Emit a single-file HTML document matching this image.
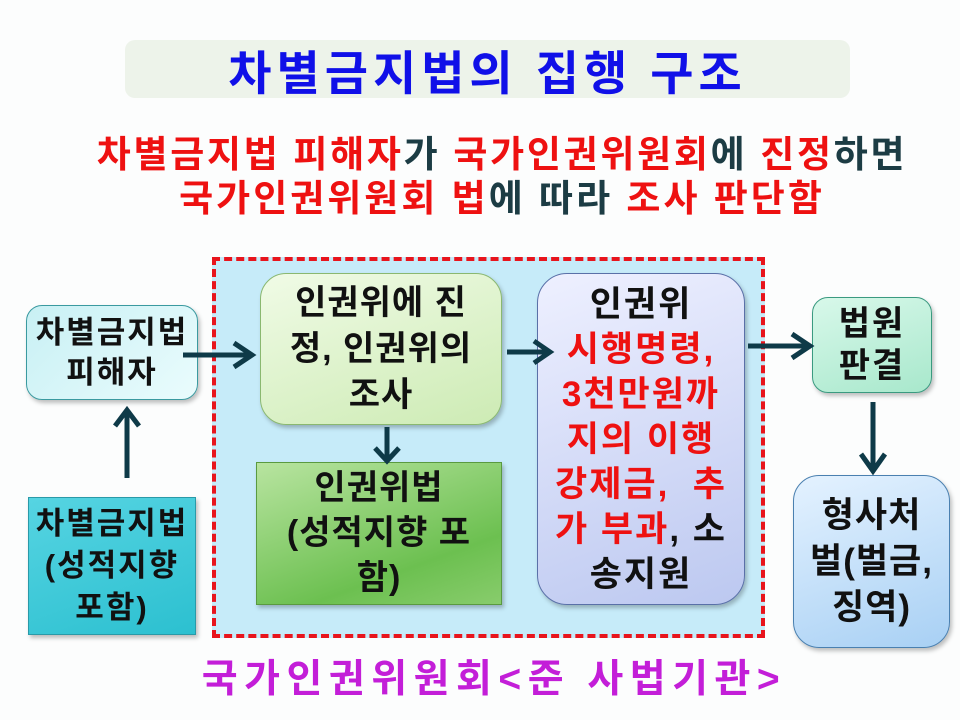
<!DOCTYPE html>
<html><head><meta charset="utf-8"><style>
body{margin:0;width:960px;height:720px;background:#fcfdfd;position:relative;overflow:hidden;font-family:"Liberation Sans","Noto Sans CJK KR",sans-serif;font-weight:bold}
.a{position:absolute;box-sizing:border-box;display:flex;flex-direction:column;align-items:center;justify-content:center;text-align:center;color:#111;white-space:nowrap}
.t{position:absolute;left:0;width:960px;text-align:center;white-space:nowrap}
.r{color:#ee1111}
.k{color:#1c3c44}
</style></head><body>
<div class="a" style="left:125px;top:40px;width:725px;height:58px;background:#edf3ea;border-radius:10px;color:#1010e8;font-size:47px;letter-spacing:5px">차별금지법의 집행 구조</div>
<div class="t" style="top:124px;font-size:37px;letter-spacing:2.7px;left:22px"><span class="r">차별금지법 피해자</span><span class="k">가 </span><span class="r">국가인권위원회</span><span class="k">에 </span><span class="r">진정</span><span class="k">하면</span></div>
<div class="t" style="top:168px;font-size:37px;letter-spacing:3px;left:22px"><span class="r">국가인권위원회 법</span><span class="k">에 따라 </span><span class="r">조사 판단함</span></div>

<div style="position:absolute;left:212px;top:257px;width:553px;height:381px;box-sizing:border-box;background:#c6ebf9;border:4px dashed #e8141c"></div>

<div class="a" style="left:26px;top:305px;width:172px;height:95px;border-radius:16px;border:1.5px solid #3a9aa0;background:linear-gradient(135deg,#c8f0f4,#eafcfd);font-size:31px;letter-spacing:2px;line-height:40px;box-shadow:2px 3px 4px rgba(0,0,0,.25)">차별금지법<br>피해자</div>
<div class="a" style="left:28px;top:497px;width:168px;height:138px;border:1.5px solid #2a9aa8;background:linear-gradient(160deg,#56d4e2,#2cc0d0);font-size:31px;letter-spacing:2px;line-height:42px;box-shadow:2px 3px 4px rgba(0,0,0,.25)">차별금지법<br>(성적지향<br>포함)</div>

<div class="a" style="left:260px;top:273px;width:242px;height:152px;border-radius:26px;border:1.5px solid #8ab870;background:linear-gradient(160deg,#f0fbe6,#cdebb4);font-size:34px;letter-spacing:1px;line-height:46px;box-shadow:2px 3px 4px rgba(0,0,0,.25)">인권위에 진<br>정, 인권위의<br>조사</div>
<div class="a" style="left:256px;top:462px;width:246px;height:143px;border:1.5px solid #5a9a40;background:linear-gradient(160deg,#b8e4a0,#6cc050 70%,#88cc6c);font-size:34px;letter-spacing:1px;line-height:45px;box-shadow:2px 3px 4px rgba(0,0,0,.25)">인권위법<br>(성적지향 포<br>함)</div>

<div class="a" style="left:537px;top:273px;width:208px;height:332px;border-radius:30px;border:1.5px solid #5a70a8;background:linear-gradient(160deg,#eef0ff,#bcc8f0);font-size:35px;letter-spacing:2px;line-height:45px;box-shadow:2px 3px 4px rgba(0,0,0,.25)">인권위<br><span class="r">시행명령,</span><span class="r">3천만원까</span><span class="r">지의 이행</span><span class="r">강제금, &nbsp;추</span><span><span class="r">가 부과</span>, 소</span>송지원</div>

<div class="a" style="left:812px;top:297px;width:120px;height:96px;border-radius:16px;border:1.5px solid #3a9a80;background:linear-gradient(160deg,#d8f8ea,#a8e8cc);font-size:34px;letter-spacing:2px;line-height:42px;box-shadow:2px 3px 4px rgba(0,0,0,.25)">법원<br>판결</div>
<div class="a" style="left:793px;top:475px;width:157px;height:173px;border-radius:26px;border:1.5px solid #4a80b0;background:linear-gradient(160deg,#e4f2ff,#a8d0f4);font-size:35px;letter-spacing:1px;line-height:46px;box-shadow:2px 3px 4px rgba(0,0,0,.25)">형사처<br>벌(벌금,<br>징역)</div>

<svg width="960" height="720" style="position:absolute;left:0;top:0" fill="none" stroke="#0e3a48" stroke-width="5">
<path d="M127 478V414M115 426L127 410L139 426"/>
<path d="M183 355H248M234 343L252 355L234 367"/>
<path d="M387 427V458M375 448L387 461L399 448"/>
<path d="M507 352H546M534 341L550 352L534 363"/>
<path d="M748 346H806M792 334L810 346L792 358"/>
<path d="M873 402V468M861 454L873 471L885 454"/>
</svg>

<div class="t" style="top:648px;font-size:39px;letter-spacing:6.5px;color:#c31ed8;left:14px">국가인권위원회&lt;준 사법기관&gt;</div>
</body></html>
